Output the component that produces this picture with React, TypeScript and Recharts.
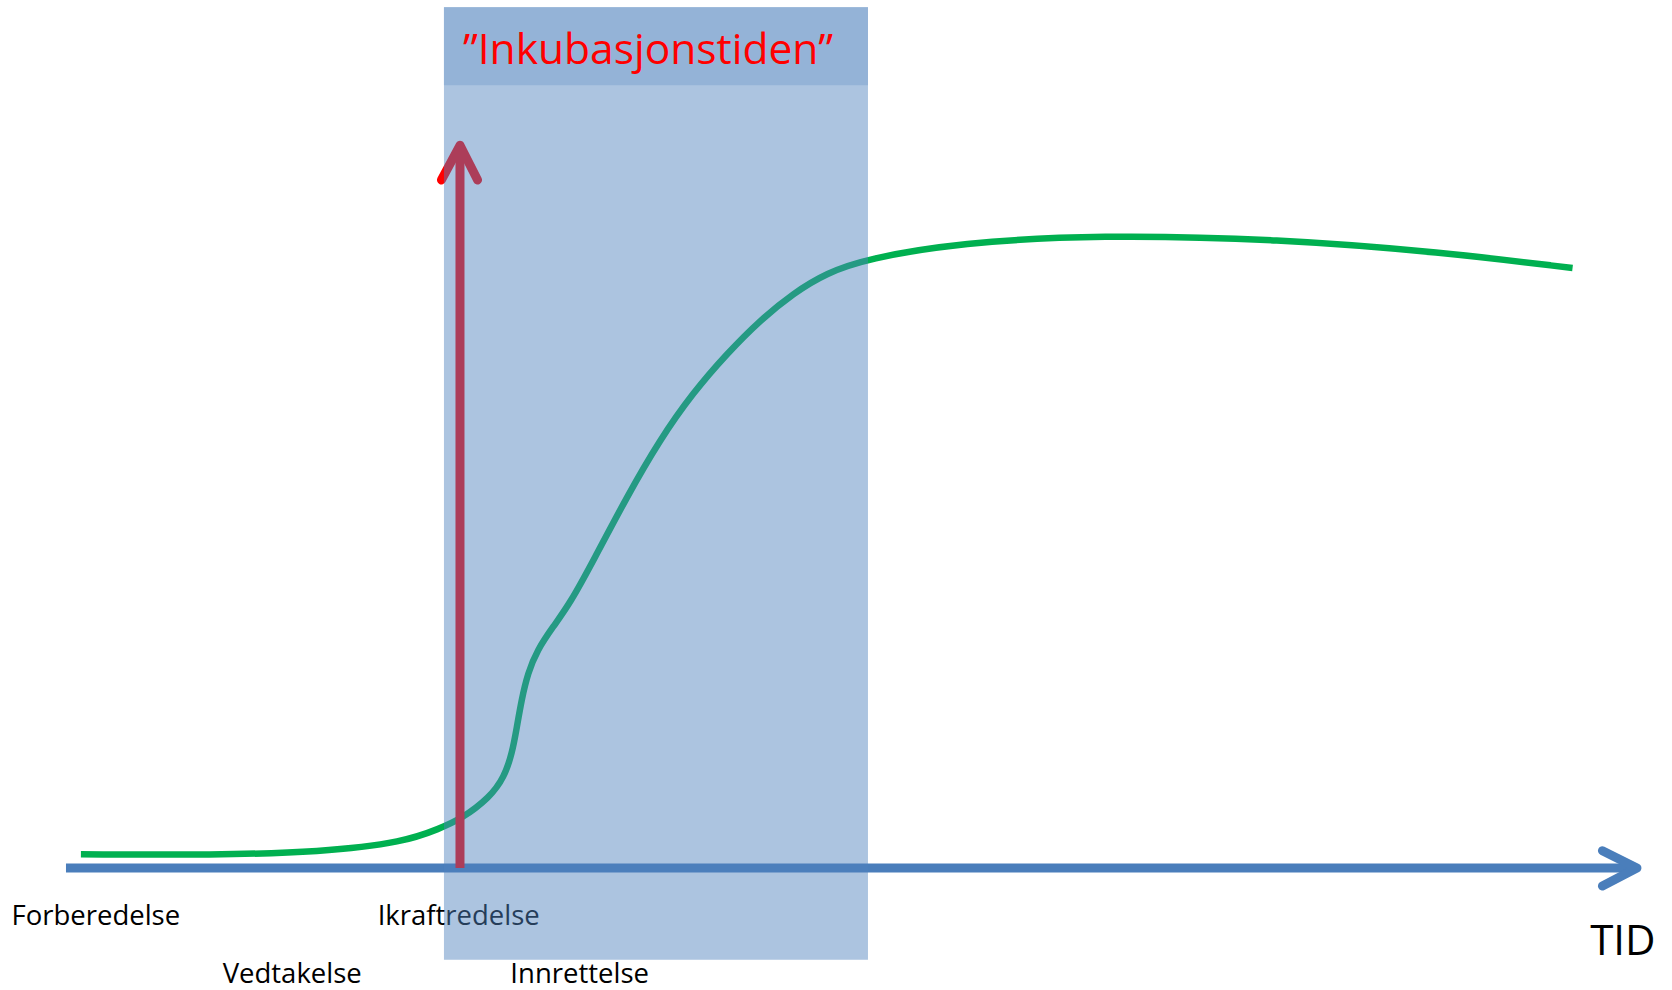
import { ComposedChart, Line, Scatter, XAxis, YAxis, ReferenceArea } from "recharts";

// time (0 = start of axis, 100 = arrow tip) and level (0 = time axis)
const curveT = [0.95, 9.4, 16.2, 21.6, 23.8, 25.1, 27.0, 27.9, 28.4, 28.7, 29.0, 29.4, 30.0, 31.0, 32.1, 33.6, 35.7, 37.8, 39.9, 42.1, 44.2, 46.3, 48.4, 51.0, 56.9, 65.7, 77.3, 87.5, 95.9];
const curveL = [1.9, 1.8, 2.2, 3.6, 5.5, 6.7, 9.8, 12.6, 15.9, 19.5, 23.3, 27.0, 30.2, 33.4, 36.7, 42.7, 51.4, 59.3, 65.8, 71.3, 75.9, 79.6, 82.4, 84.4, 86.6, 87.7, 87.1, 85.3, 83.1];

const axisShaftT = [0, 99.6];
const axisShaftL = [0, 0];
const axisHeadT = [97.8, 100, 97.8];
const axisHeadL = [2.4, 0, -2.5];

const ikraftT = [25.08, 25.08];
const ikraftL = [0, 99.4];
const ikraftHeadT = [23.9, 25.08, 26.2];
const ikraftHeadL = [95.3, 100.1, 95.3];

const phaseLabels = ["Forberedelse", "Ikraftredelse", "Vedtakelse", "Innrettelse"];
const phaseT = [1.9, 25.0, 14.4, 32.7];
const phaseL = [-6.4, -6.5, -14.5, -14.5];

const incubationStart = 24.06;
const incubationEnd = 51.05;
const incubationBottom = -12.7;
const incubationTop = 119.2;
const headerBottom = 108.4;

const title = "”Inkubasjonstiden”";
const titleT = 37.05;
const titleL = 113.7;

const timeLabel = "TID";
const timeLabelT = 99.1;
const timeLabelL = -9.7;

const zip = (ts: number[], ls: number[]) => ts.map((t, i) => ({ t, L: ls[i] }));

const curve = zip(curveT, curveL);
const axisShaft = zip(axisShaftT, axisShaftL);
const axisHead = zip(axisHeadT, axisHeadL);
const ikraftShaft = zip(ikraftT, ikraftL);
const ikraftHead = zip(ikraftHeadT, ikraftHeadL);
const phases = phaseLabels.map((label, i) => ({ t: phaseT[i], L: phaseL[i], label }));
const bigTexts = [{ t: timeLabelT, L: timeLabelL, label: timeLabel }];
const titles = [{ t: titleT, L: titleL, label: title }];

const FONT = "'Open Sans', 'DejaVu Sans', sans-serif";

const textShape = (size: number, color: string) => (props: any) => (
  <text
    x={props.cx}
    y={props.cy}
    textAnchor="middle"
    dominantBaseline="central"
    fontFamily={FONT}
    fontSize={size}
    fill={color}
  >
    {props.payload.label}
  </text>
);

export default function App() {
  return (
    <div style={{ position: "absolute", left: 0, top: 0, background: "#fff" }}>
      <ComposedChart width={1672} height={990} margin={{ top: 0, right: 0, bottom: 0, left: 0 }}>
        <XAxis type="number" dataKey="t" domain={[-4.2, 102.23]} hide allowDataOverflow />
        <YAxis type="number" dataKey="L" domain={[-16.9, 120.22]} hide allowDataOverflow />

        <Line data={curve} dataKey="L" type="basis" stroke="#00B050" strokeWidth={6.5}
          dot={false} activeDot={false} isAnimationActive={false} zIndex={10} />

        <Line data={axisShaft} dataKey="L" type="linear" stroke="#4A7EBB" strokeWidth={9}
          dot={false} activeDot={false} isAnimationActive={false} zIndex={20} />
        <Line data={axisHead} dataKey="L" type="linear" stroke="#4A7EBB" strokeWidth={9}
          strokeLinecap="round" strokeLinejoin="round"
          dot={false} activeDot={false} isAnimationActive={false} zIndex={20} />

        <Line data={ikraftShaft} dataKey="L" type="linear" stroke="#FF0000" strokeWidth={9}
          dot={false} activeDot={false} isAnimationActive={false} zIndex={30} />
        <Line data={ikraftHead} dataKey="L" type="linear" stroke="#FF0000" strokeWidth={9}
          strokeLinecap="round" strokeLinejoin="round"
          dot={false} activeDot={false} isAnimationActive={false} zIndex={30} />

        <Scatter data={phases} dataKey="L" shape={textShape(27.5, "#000000")}
          isAnimationActive={false} zIndex={40} />

        <ReferenceArea x1={incubationStart} x2={incubationEnd} y1={incubationBottom} y2={incubationTop}
          fill="#4F81BD" fillOpacity={0.47} stroke="none" zIndex={50} />
        <ReferenceArea x1={incubationStart} x2={incubationEnd} y1={headerBottom} y2={incubationTop}
          fill="#94B3D7" fillOpacity={1} stroke="none" zIndex={60} />

        <Scatter data={bigTexts} dataKey="L" shape={textShape(42, "#000000")}
          isAnimationActive={false} zIndex={70} />
        <Scatter data={titles} dataKey="L" shape={textShape(42.5, "#FF0000")}
          isAnimationActive={false} zIndex={70} />
      </ComposedChart>
    </div>
  );
}
